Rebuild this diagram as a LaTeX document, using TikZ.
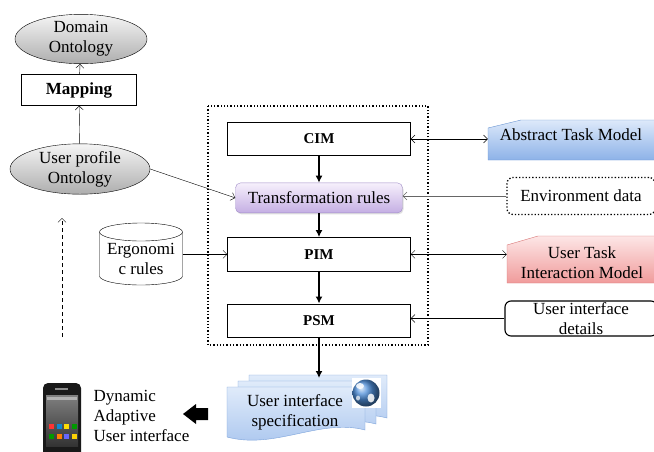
\documentclass[tikz,border=0pt]{standalone}
\usepackage{fontspec}
\setmainfont{Liberation Serif}
\usetikzlibrary{arrows.meta, backgrounds, calc, positioning, shadows, shapes.geometric}
\definecolor{atmtop}{HTML}{DDE9FA}
\definecolor{atmbot}{HTML}{8DB2E8}
\definecolor{atmline}{HTML}{6A95D2}
\definecolor{taskstop}{HTML}{FDE6E6}
\definecolor{tasksbot}{HTML}{F09B9B}
\definecolor{tasksline}{HTML}{D87474}
\definecolor{rulestop}{HTML}{F6F0FC}
\definecolor{rulesbot}{HTML}{C4AEE3}
\definecolor{rulesline}{HTML}{A08CC8}
\definecolor{doctop}{HTML}{E0EBFA}
\definecolor{docbot}{HTML}{A7C4EE}
\definecolor{docline}{HTML}{7BA2DA}
\definecolor{globeblue}{HTML}{4F8FDA}
\newcommand{\textsz}{\fontsize{17}{20}\selectfont}
\newcommand{\blocksz}{\fontsize{15}{18}\selectfont\bfseries}
\tikzstyle{block} = [draw, rectangle, minimum width=183pt, minimum height=33pt,
    font=\blocksz]
\tikzstyle{rule} = [draw=rulesline, rounded corners=5pt, top color=rulestop,
    bottom color=rulesbot, minimum width=167pt, minimum height=30pt,
    drop shadow={opacity=0.25, shadow xshift=1pt, shadow yshift=-1.5pt}]
\tikzstyle{onto} = [draw, ellipse, top color=black!4, bottom color=black!32,
    align=center, inner sep=0pt]
\tikzstyle{box} = [draw, rectangle, align=center]
\tikzstyle{arrow} = [->, black]
\tikzstyle{flow} = [-{Latex[length=7pt, width=7pt]}, line width=1.4pt]
\tikzstyle{frame} = [dotted, line width=1.3pt]

\begin{document}
\begin{tikzpicture}[x=1pt, y=-1pt, >={Straight Barb[length=4pt, width=8pt]},
    font=\textsz]
  \clip (0,0) rectangle (654,451);

  % Place the blocks
  \node [block] (cim) at (319,139) {CIM};
  \node [rule, below=27pt of cim] (rules) {Transformation rules};
  \node [block, minimum height=34pt, below=24pt of rules] (pim) {PIM};
  \node [block, below=32pt of pim] (psm) {PSM};
  \draw [frame] (208,106) rectangle (428,345);

  \node [onto, minimum width=132pt, minimum height=48pt] (domain) at (81,39)
      {Domain\\Ontology};
  \node [box, minimum width=115pt, minimum height=31pt, font=\textsz\bfseries]
      (mapping) at (79,90) {Mapping};
  \node [onto, minimum width=140pt, minimum height=46pt] (profile) at (80,169)
      {User profile\\Ontology};
  \node [minimum width=83pt, align=center, inner sep=0pt] (ergo) at (141,259)
      {Ergonomi\\c rules};

  \node [minimum width=166pt] (atm) at (571,135) {Abstract Task Model};
  \node [draw, dotted, line width=1.3pt, rounded corners=6pt,
      minimum width=148pt, minimum height=37pt] (env) at (581,196)
      {Environment data};
  \node [minimum width=150pt, align=center] (tasks) at (582,263)
      {User Task\\Interaction Model};
  \node [draw, line width=1.1pt, rounded corners=6pt, align=center,
      minimum width=152pt, minimum height=35pt, inner sep=1pt] (details)
      at (581,318.5) {User interface\\details};

  \node [align=center] (spec) at (295,412) {User interface\\specification};
  \coordinate (specin) at (319,378);
  \node [anchor=west, align=left] (dynamic) at (90,416)
      {Dynamic\\Adaptive\\User interface};

  % Shapes behind the texts
  \begin{scope}[on background layer]
    \draw [fill=white] (99.5,232) -- (99.5,276) arc (180:0:41.5 and 9)
      -- (182.5,232);
    \draw (141,232) ellipse (41.5 and 9);
    \path [draw=atmline, top color=atmtop, bottom color=atmbot]
      (488,128) -- (521,120) -- (660,120) -- (660,160) -- (488,160) -- cycle;
    \path [draw=tasksline, top color=taskstop, bottom color=tasksbot]
      (507,245) -- (538,236) -- (660,236) -- (660,283) -- (507,283) -- cycle;
    \foreach \k in {2,1,0} {
      \path [draw=docline, top color=doctop, bottom color=docbot,
          shift={(11*\k,-6*\k)}]
        (227,387) -- (365,387) -- (365,430)
        .. controls (320,418) and (275,450) .. (227,437) -- cycle;
    }
    % globe
    \fill [white] (352,378) rectangle (381,408);
    \shade [ball color=globeblue] (366,393) circle (13.5);
    \fill [white, opacity=0.85] (360,386) ellipse (4 and 3);
    \fill [white, opacity=0.85] (371,398) ellipse (3.5 and 4.5);
    \fill [white, opacity=0.7] (358,398) ellipse (2 and 2.5);
  \end{scope}

  % Phone
  \fill [black!90, rounded corners=5pt] (43,383) rectangle (81,462);
  \shade [top color=black!50, bottom color=black!80] (46,395) rectangle (78,446);
  \fill [black!45] (55,388) rectangle (68,390);
  \fill [black!30] (47,397) rectangle (77,400);
  \foreach \x/\c in {49/red!80, 56.5/cyan!70!blue, 64/yellow!80!orange,
      71.5/green!60!black} {
    \fill [\c] (\x,424) rectangle ++(5,5);
  }
  \foreach \x/\c in {49/green!60!black, 56.5/orange, 64/blue!60, 71.5/yellow!70!orange} {
    \fill [\c] (\x,434) rectangle ++(5,5);
  }
  \fill (208,408) -- (196,408) -- (196,404) -- (183,414) -- (196,424)
      -- (196,420) -- (208,420) -- cycle;

  % Connect the nodes
  \draw [flow] (cim) -- (rules);
  \draw [flow] (rules) -- (pim);
  \draw [flow] (pim) -- (psm);
  \draw [flow] (psm) -- (specin);
  \draw [arrow] (profile) -- (mapping);
  \draw [arrow] (mapping) -- (domain);
  \draw [arrow] (profile.east) -- (rules.west);
  \draw [arrow] (ergo.east |- pim) -- (pim.west);
  \draw [<->] (cim.east) -- (cim.east -| atm.west);
  \draw [arrow, black!60] (env.west) -- (env.west -| rules.east);
  \draw [<->] (pim.east) -- (pim.east -| tasks.west);
  \draw [arrow] (details.west) -- (details.west -| psm.east);
  \coordinate (backlow) at (62,337);
  \coordinate (backhigh) at (62,218);
  \draw [arrow, dash pattern=on 4pt off 3pt] (backlow) -- (backhigh);
\end{tikzpicture}
\end{document}
